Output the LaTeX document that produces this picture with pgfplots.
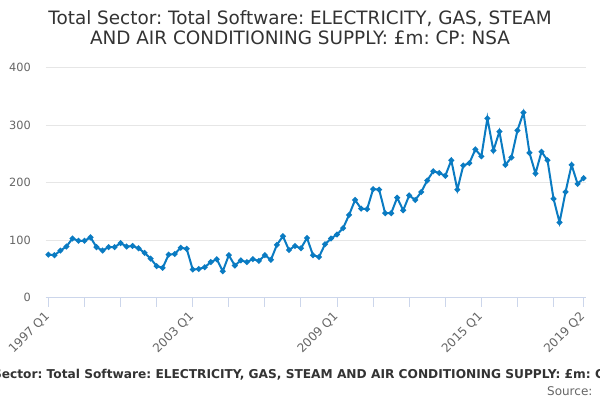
\documentclass[border=0pt]{standalone}
\usepackage{fontspec}
\setmainfont{DejaVu Sans}
\usepackage{pgfplots}
\pgfplotsset{compat=1.18}
\frenchspacing
\definecolor{linec}{HTML}{0A7BC2}
\definecolor{gridc}{HTML}{E6E6E6}
\definecolor{axisc}{HTML}{CCD6EB}
\definecolor{titlec}{HTML}{333333}
\definecolor{labc}{HTML}{666666}
\pgfplotstableread{
x y
0 75
1 74
2 82
3 89
4 103
5 99
6 99
7 105
8 88
9 82
10 88
11 88
12 95
13 89
14 90
15 86
16 78
17 68
18 55
19 52
20 75
21 76
22 87
23 85
24 49
25 50
26 53
27 62
28 67
29 46
30 74
31 56
32 65
33 62
34 67
35 64
36 74
37 66
38 92
39 107
40 83
41 90
42 86
43 104
44 74
45 71
46 93
47 103
48 110
49 121
50 144
51 170
52 155
53 154
54 189
55 188
56 147
57 147
58 174
59 152
60 178
61 170
62 184
63 204
64 220
65 217
66 212
67 239
68 188
69 230
70 234
71 258
72 246
73 312
74 256
75 289
76 231
77 244
78 291
79 322
80 252
81 216
82 254
83 239
84 172
85 131
86 184
87 231
88 198
89 208
}\datatable
\begin{document}
\begin{tikzpicture}
\path[use as bounding box, fill=white] (0pt,0pt) rectangle (450pt,300pt);
\node[anchor=base, text=titlec, font=\fontsize{13.8}{16}\selectfont] at (225pt,281.8pt) {Total Sector: Total Software: ELECTRICITY, GAS, STEAM};
\node[anchor=base, text=titlec, font=\fontsize{13.8}{16}\selectfont] at (225pt,266.25pt) {AND AIR CONDITIONING SUPPLY: £m: CP: NSA};
\begin{axis}[
  at={(34.5pt,76.7pt)}, anchor=south west,
  width=405pt, height=172.5pt, scale only axis,
  xmin=-0.4, xmax=89.4, ymin=0, ymax=400,
  axis x line*=bottom, axis y line*=left,
  y axis line style={draw=none},
  x axis line style={draw=axisc, line width=0.75pt, -},
  ytick={0,100,200,300,400},
  ytick style={draw=none},
  ymajorgrids,
  grid style={draw=gridc, line width=0.75pt},
  xtick={0,6,12,18,24,30,36,42,48,54,60,66,72,78,84,89},
  xticklabels={1997 Q1,,,,2003 Q1,,,,2009 Q1,,,,2015 Q1,,,2019 Q2},
  xtick style={draw=axisc, line width=0.75pt},
  tick align=outside,
  major tick length=6.75pt,
  /pgf/number format/assume math mode=true,
  yticklabel style={font=\fontsize{8.5}{10}\selectfont, text=labc, anchor=east, inner sep=0pt, xshift=-4.5pt},
  xticklabel style={font=\fontsize{9}{11}\selectfont, text=labc, rotate=45, anchor=north east, inner sep=0.5pt, xshift=-4pt, yshift=1pt},
  clip=false,
]
\addplot[color=linec, line width=1.5pt, mark=*, mark size=1.3pt, mark options={fill=linec, draw=linec}] table[x=x,y=y] {\datatable};
\end{axis}
\node[anchor=base, text=titlec, font=\bfseries\fontsize{9.15}{11}\selectfont] at (227.25pt,16.3pt) {Total Sector: Total Software: ELECTRICITY, GAS, STEAM AND AIR CONDITIONING SUPPLY: £m: CP: NSA};
\node[anchor=base east, text=labc, font=\fontsize{9}{11}\selectfont, inner sep=0pt] at (444.5pt,3.5pt) {Source:};
\end{tikzpicture}
\end{document}
